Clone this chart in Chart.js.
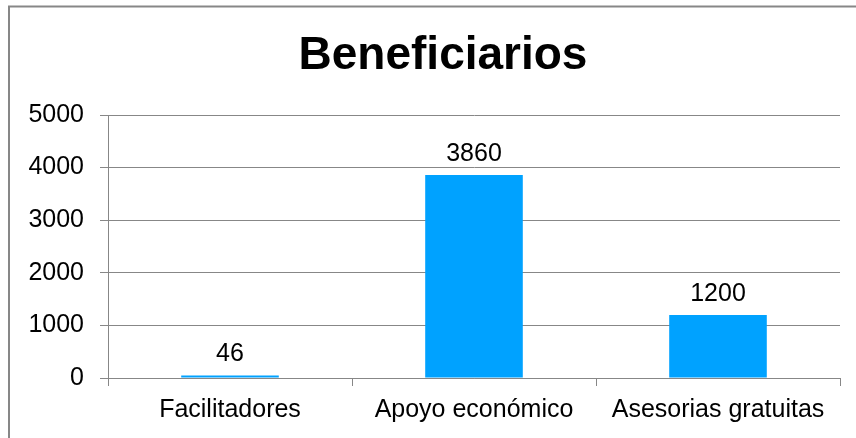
<!DOCTYPE html>
<html>
<head>
<meta charset="utf-8">
<script src="https://cdn.jsdelivr.net/npm/chart.js@4.4.1/dist/chart.umd.min.js"></script>
<style>
  html, body { margin: 0; padding: 0; background: #fff; }
  #wrap { width: 856px; height: 438px; position: relative; }
</style>
</head>
<body>
<div id="wrap"><canvas id="chart" width="856" height="438"></canvas></div>
<script>
const categories = ["Facilitadores", "Apoyo económico", "Asesorias gratuitas"];
const beneficiarios = [46, 3860, 1200];
const yTicks = [0, 1000, 2000, 3000, 4000, 5000];
const chartTitle = "Beneficiarios";

const FONT = "'Liberation Sans', Arial, sans-serif";
const GRAY = "#878787";

// outer frame (only top and left edge show in the picture) + title
const framePlugin = {
  id: "frame",
  beforeDraw(chart) {
    const ctx = chart.ctx;
    ctx.save();
    ctx.fillStyle = "#fff";
    ctx.fillRect(0, 0, chart.width, chart.height);
    ctx.strokeStyle = GRAY;
    ctx.lineWidth = 2;
    ctx.beginPath();
    ctx.moveTo(9, chart.height);
    ctx.lineTo(9, 6.5);
    ctx.lineTo(chart.width, 6.5);
    ctx.stroke();
    // title sits a bit right of the canvas centre
    ctx.fillStyle = "#000";
    ctx.font = "bold 46px " + FONT;
    ctx.textAlign = "center";
    ctx.textBaseline = "middle";
    ctx.fillText(chartTitle, 443, 56);
    ctx.restore();
  }
};

// value labels over each bar
const valueLabels = {
  id: "valueLabels",
  afterDatasetsDraw(chart) {
    const ctx = chart.ctx;
    const meta = chart.getDatasetMeta(0);
    ctx.save();
    ctx.font = "25px " + FONT;
    ctx.fillStyle = "#000";
    ctx.textAlign = "center";
    ctx.textBaseline = "middle";
    meta.data.forEach((bar, i) => {
      ctx.fillText(String(beneficiarios[i]), bar.x, bar.y - 21);
    });
    ctx.restore();
  }
};

new Chart(document.getElementById("chart"), {
  type: "bar",
  data: {
    labels: categories,
    datasets: [{
      label: "Beneficiarios",
      data: beneficiarios,
      backgroundColor: "#00a2ff",
      barPercentage: 0.4,
      categoryPercentage: 1.0
    }]
  },
  options: {
    responsive: false,
    animation: false,
    layout: { padding: { left: 0, right: 16, top: 115, bottom: 0 } },
    plugins: {
      legend: { display: false },
      tooltip: { enabled: false },
      title: { display: false }
    },
    scales: {
      x: {
        afterFit(s) { s.height = 60; },
        grid: { drawOnChartArea: false, drawTicks: true, tickLength: 8, color: GRAY, offset: true },
        border: { color: GRAY, width: 1 },
        ticks: { color: "#000", font: { family: FONT, size: 25 }, padding: 9 }
      },
      y: {
        min: 0,
        max: 5000,
        afterFit(s) { s.width = 108; },
        afterBuildTicks(s) { s.ticks = yTicks.map(v => ({ value: v })); },
        grid: { color: GRAY, tickLength: 8, lineWidth: 1 },
        border: { color: GRAY, width: 1 },
        ticks: {
          color: "#000",
          font: { family: FONT, size: 25 },
          padding: 16,
          callback: v => String(v)
        }
      }
    }
  },
  plugins: [framePlugin, valueLabels]
});
</script>
</body>
</html>
